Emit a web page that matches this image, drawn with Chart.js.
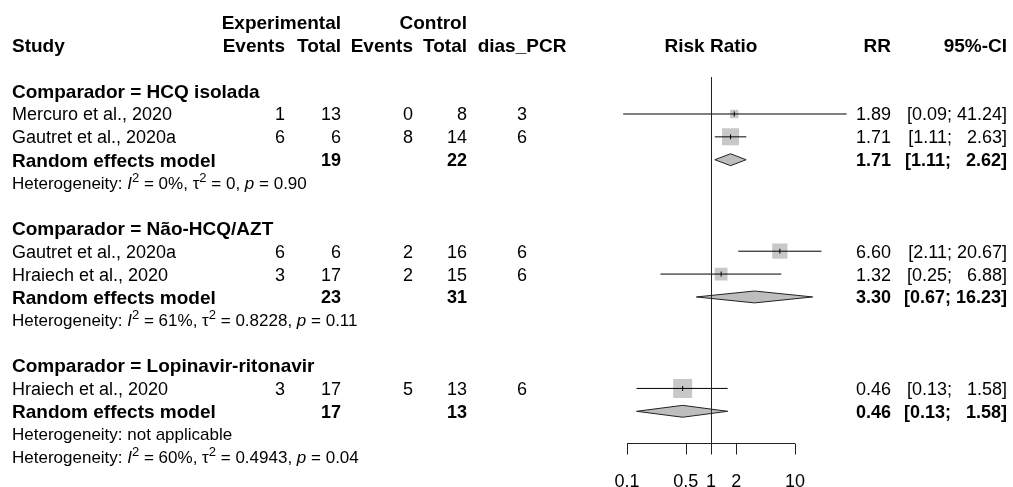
<!DOCTYPE html>
<html>
<head>
<meta charset="utf-8">
<title>Forest plot</title>
<script src="https://cdn.jsdelivr.net/npm/chart.js@4.4.0/dist/chart.umd.min.js"></script>
<style>
html, body { margin: 0; padding: 0; background: #fff; }
#forest { display: block; }
</style>
</head>
<body>
<canvas id="forest" width="1013" height="487"></canvas>
<script>
// data
var groups = ['HCQ isolada', 'Não-HCQ/AZT', 'Lopinavir-ritonavir'];
var studies = ['Mercuro et al., 2020', 'Gautret et al., 2020a', 'Gautret et al., 2020a', 'Hraiech et al., 2020', 'Hraiech et al., 2020'];
var studyGroup = [0, 0, 1, 1, 2];
var expEvents = [1, 6, 6, 3, 3];
var expTotal = [13, 6, 6, 17, 17];
var ctrlEvents = [0, 8, 2, 2, 5];
var ctrlTotal = [8, 14, 16, 15, 13];
var diasPCR = [3, 6, 6, 6, 6];
var rr = [1.89, 1.71, 6.60, 1.32, 0.46];
var rrLow = [0.09, 1.11, 2.11, 0.25, 0.13];
var rrHigh = [41.24, 2.63, 20.67, 6.88, 1.58];
var weights = [6.2, 25.9, 21.0, 14.5, 32.4];

var reRR = [1.71, 3.30, 0.46];
var reLow = [1.11, 0.67, 0.13];
var reHigh = [2.62, 16.23, 1.58];
var reExpTotal = [19, 23, 17];
var reCtrlTotal = [22, 31, 13];

var hetI2 = ['0%', '61%', null];
var hetTau2 = ['0', '0.8228', null];
var hetP = ['0.90', '0.11', null];
var overallHet = ['60%', '0.4943', '0.04'];

var xTicks = [0.1, 0.5, 1, 2, 10];

// rows of the table (0 and 1 are the header lines)
var groupRow = [], studyRow = [], reRow = [], hetRow = [];
var r = 3;
for (var g = 0; g < groups.length; g++) {
    groupRow.push(r); r++;
    for (var i = 0; i < studies.length; i++) {
        if (studyGroup[i] === g) { studyRow[i] = r; r++; }
    }
    reRow.push(r); r++;
    hetRow.push(r); r++;
    if (g < groups.length - 1) r++;
}
var overallRow = r;

var FONT = '"Liberation Sans", Arial, sans-serif';

function fmt(v) { return v.toFixed(2); }
function ciText(lo, hi) {
    var h = fmt(hi);
    while (h.length < 5) h = '  ' + h;   // two spaces ~ one digit
    return '[' + fmt(lo) + '; ' + h + ']';
}

var datasets = [];

// confidence interval lines
for (var i = 0; i < studies.length; i++) {
    datasets.push({
        data: [{x: rrLow[i], y: studyRow[i]}, {x: rrHigh[i], y: studyRow[i]}],
        showLine: true,
        borderColor: '#000',
        borderWidth: 1,
        pointRadius: 0,
        order: 2
    });
}

// little tick at the point estimate
datasets.push({
    data: rr.map(function(v, i) { return {x: v, y: studyRow[i]}; }),
    pointStyle: 'line',
    pointRotation: 90,
    pointRadius: 2.5,
    pointBorderColor: '#000',
    pointBorderWidth: 1,
    order: 1
});

// weighted squares
datasets.push({
    data: rr.map(function(v, i) { return {x: v, y: studyRow[i]}; }),
    pointStyle: 'rect',
    pointRadius: weights.map(function(w) { return 3.34 * Math.sqrt(w) / Math.SQRT2; }),
    pointBackgroundColor: '#c8c8c8',
    pointBorderWidth: 0,
    order: 3
});

// random effects diamonds
for (var g = 0; g < groups.length; g++) {
    var yr = reRow[g];
    datasets.push({
        data: [
            {x: reLow[g], y: yr},
            {x: reRR[g], y: yr - 0.26},
            {x: reHigh[g], y: yr},
            {x: reRR[g], y: yr + 0.26},
            {x: reLow[g], y: yr}
        ],
        showLine: true,
        fill: 'shape',
        backgroundColor: '#bebebe',
        borderColor: '#222',
        borderWidth: 1,
        pointRadius: 0,
        order: 1
    });
}

function drawRich(ctx, parts, x, y, size) {
    for (var k = 0; k < parts.length; k++) {
        var t = parts[k][0], s = parts[k][1];
        var yy = y;
        if (s === 'i') ctx.font = 'italic ' + size + 'px ' + FONT;
        else if (s === 's') { ctx.font = Math.round(size * 0.75) + 'px ' + FONT; yy = y - size * 0.42; }
        else ctx.font = size + 'px ' + FONT;
        ctx.fillText(t, x, yy);
        x += ctx.measureText(t).width;
    }
}

function hetParts(i2, tau2, p) {
    return [['Heterogeneity: ', 'n'], ['I', 'i'], ['2', 's'], [' = ' + i2 + ', ', 'n'],
            ['\u03c4', 'n'], ['2', 's'], [' = ' + tau2 + ', ', 'n'], ['p', 'i'], [' = ' + p, 'n']];
}

var forestTable = {
    id: 'forestTable',
    afterDraw: function(chart) {
        var ctx = chart.ctx;
        var xs = chart.scales.x, ys = chart.scales.y;
        var colStudy = 12, colExpEv = 285, colExpTot = 341, colCtrlEv = 413, colCtrlTot = 467,
            colDias = 522, colRR = 891, colCI = 1007;
        var hetSize = 17;

        function text(str, x, row, align, bold, size) {
            size = size || (bold ? 19 : 18);
            ctx.font = (bold ? 'bold ' : '') + size + 'px ' + FONT;
            ctx.textAlign = align;
            ctx.fillText(String(str), x, ys.getPixelForValue(row) + size * 0.358);
        }

        ctx.save();
        ctx.fillStyle = '#000';
        ctx.textBaseline = 'alphabetic';

        // header
        text('Experimental', colExpTot, 0, 'right', true);
        text('Control', colCtrlTot, 0, 'right', true);
        text('Study', colStudy, 1, 'left', true);
        text('Events', colExpEv, 1, 'right', true);
        text('Total', colExpTot, 1, 'right', true);
        text('Events', colCtrlEv, 1, 'right', true);
        text('Total', colCtrlTot, 1, 'right', true);
        text('dias_PCR', colDias, 1, 'center', true);
        text('Risk Ratio', xs.getPixelForValue(1), 1, 'center', true);
        text('RR', colRR, 1, 'right', true);
        text('95%-CI', colCI, 1, 'right', true);

        for (var g = 0; g < groups.length; g++) {
            text('Comparador = ' + groups[g], colStudy, groupRow[g], 'left', true);
            text('Random effects model', colStudy, reRow[g], 'left', true);
            text(reExpTotal[g], colExpTot, reRow[g], 'right', true, 18);
            text(reCtrlTotal[g], colCtrlTot, reRow[g], 'right', true, 18);
            text(fmt(reRR[g]), colRR, reRow[g], 'right', true, 18);
            text(ciText(reLow[g], reHigh[g]), colCI, reRow[g], 'right', true, 18);
            ctx.textAlign = 'left';
            var hy = ys.getPixelForValue(hetRow[g]) + hetSize * 0.358;
            if (hetI2[g] === null) {
                ctx.font = hetSize + 'px ' + FONT;
                ctx.fillText('Heterogeneity: not applicable', colStudy, hy);
            } else {
                drawRich(ctx, hetParts(hetI2[g], hetTau2[g], hetP[g]), colStudy, hy, hetSize);
            }
        }
        ctx.textAlign = 'left';
        drawRich(ctx, hetParts(overallHet[0], overallHet[1], overallHet[2]), colStudy,
                 ys.getPixelForValue(overallRow) + hetSize * 0.358, hetSize);

        for (var i = 0; i < studies.length; i++) {
            var row = studyRow[i];
            text(studies[i], colStudy, row, 'left');
            text(expEvents[i], colExpEv, row, 'right');
            text(expTotal[i], colExpTot, row, 'right');
            text(ctrlEvents[i], colCtrlEv, row, 'right');
            text(ctrlTotal[i], colCtrlTot, row, 'right');
            text(diasPCR[i], colDias, row, 'center');
            text(fmt(rr[i]), colRR, row, 'right');
            text(ciText(rrLow[i], rrHigh[i]), colCI, row, 'right');
        }

        // x axis, ticks and line of no effect
        var axisY = 443.5, tickLen = 11;
        var x0 = xs.getPixelForValue(xTicks[0]), x1 = xs.getPixelForValue(xTicks[xTicks.length - 1]);
        var xRef = Math.round(xs.getPixelForValue(1)) + 0.5;
        ctx.strokeStyle = '#222';
        ctx.lineWidth = 1;
        ctx.beginPath();
        ctx.moveTo(xRef, 77);
        ctx.lineTo(xRef, axisY);
        ctx.moveTo(x0, axisY);
        ctx.lineTo(x1, axisY);
        for (var k = 0; k < xTicks.length; k++) {
            var tx = Math.round(xs.getPixelForValue(xTicks[k])) + 0.5;
            ctx.moveTo(tx, axisY);
            ctx.lineTo(tx, axisY + tickLen);
        }
        ctx.stroke();
        ctx.font = '18px ' + FONT;
        ctx.textAlign = 'center';
        for (var k = 0; k < xTicks.length; k++) {
            ctx.fillText(String(xTicks[k]), xs.getPixelForValue(xTicks[k]), 480.5 + 18 * 0.358);
        }
        ctx.restore();
    }
};

// pixel layout: 84 px per decade, RR = 1 at x = 711
var xMin = 0.08, xMax = 50;
var padLeft = 711 + 84 * Math.log10(xMin);
var padRight = 1013 - (711 + 84 * Math.log10(xMax));

var ctx = document.getElementById('forest');
var chart = new Chart(ctx, {
    type: 'scatter',
    data: { datasets: datasets },
    options: {
        responsive: false,
        animation: false,
        devicePixelRatio: 1,
        layout: { autoPadding: false, padding: { left: padLeft, right: padRight, top: 0, bottom: 0 } },
        scales: {
            x: { type: 'logarithmic', min: xMin, max: xMax, bounds: 'data', display: false },
            y: { type: 'linear', min: -0.984, max: 20.31, reverse: true, display: false }
        },
        plugins: { legend: { display: false }, tooltip: { enabled: false } }
    },
    plugins: [forestTable]
});
</script>
</body>
</html>
